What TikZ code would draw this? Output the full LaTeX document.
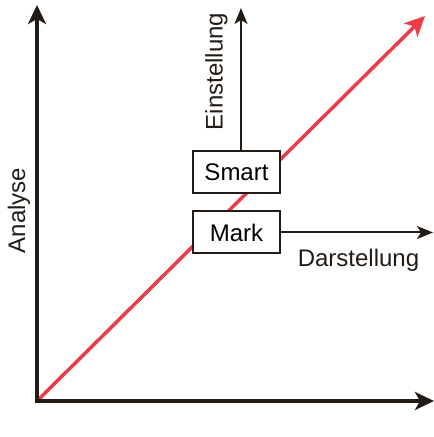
\documentclass[tikz,border=0pt]{standalone}
\usepackage{fontspec}
\setmainfont{Liberation Sans}
\usetikzlibrary{arrows.meta, positioning}
\definecolor{axisdark}{RGB}{35,28,22}
\definecolor{diagred}{RGB}{233,61,72}

\begin{document}
\begin{tikzpicture}[x=1pt, y=1pt,
  axis/.style={-{Stealth[length=19pt, width=18pt, inset=5pt]}, line width=4pt, draw=axisdark},
  redline/.style={-{Stealth[length=20pt, width=19pt, inset=5pt]}, line width=3.5pt, draw=diagred},
  thinarrow/.style={-{Stealth[length=16pt, width=13pt, inset=4pt]}, line width=2pt, draw=axisdark},
  box/.style={draw=axisdark, line width=2pt, fill=white, minimum width=87pt,
              minimum height=42pt, inner sep=0pt, font=\fontsize{24}{28}\selectfont},
  labelstyle/.style={inner sep=0pt, text=axisdark, font=\fontsize{24}{28}\selectfont}
]
\useasboundingbox (0,0) rectangle (434,437);

\coordinate (O) at (37,36);
\coordinate (ytop) at (37,432);
\coordinate (xend) at (434,36);
\coordinate (redend) at (425,421);

% diagonal
\draw[redline] (O) -- (redend);

% axes
\draw[axis] ([yshift=-2pt]O) -- (ytop);
\draw[axis] ([xshift=-2pt]O) -- (xend);

\node[box] (smart) at (236.5,264.5) {Smart};
\node[box] (mark)  at (236.5,204.5) {Mark};

\coordinate (einend) at (241,429);
\coordinate (darend) at (433,204.5);

\draw[thinarrow] (smart.north -| einend) -- (einend);
\draw[thinarrow] (mark.east) -- (darend);

\node[labelstyle, rotate=90] (einst) at (216.5,365.5) {Einstellung};
\node[labelstyle] (darst) at (358.5,176.5) {Darstellung};
\node[labelstyle, rotate=90] (anal) at (19,226.5) {Analyse};

\end{tikzpicture}
\end{document}
